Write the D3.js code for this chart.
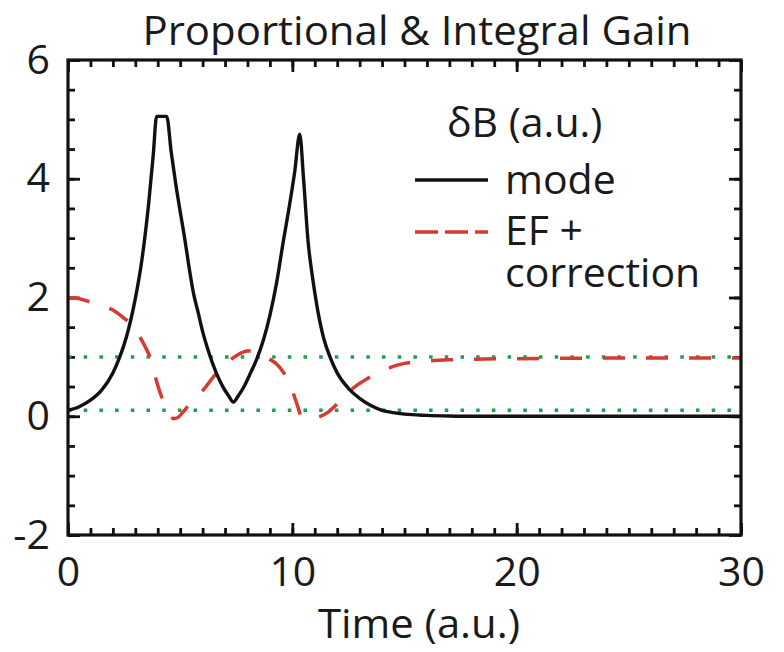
<!DOCTYPE html>
<html>
<head>
<meta charset="utf-8">
<script src="https://cdn.jsdelivr.net/npm/d3@7"></script>
<style>
  body { margin: 0; background: #fff; }
  text { font-family: "Open Sans", "Noto Sans", sans-serif; fill: #1a1a1a; }
</style>
</head>
<body>
<div id="chart"></div>
<script>
// mode curve (black)
const modeTime = [0, 0.5, 1, 1.5, 2, 2.3, 2.6, 3.0, 3.3, 3.6, 3.8, 3.95, 4.4, 4.6, 4.8, 5.0, 5.2, 5.4, 5.6, 5.8, 6.0, 6.3, 6.6, 6.9, 7.15, 7.37,
  7.6, 7.85, 8.1, 8.4, 8.7, 9.0, 9.3, 9.6, 9.85, 10.1, 10.33, 10.5, 10.7, 10.9, 11.1, 11.4, 11.7, 12.0, 12.5, 13.0, 13.5, 14.0, 14.5, 15, 16, 17, 18, 20, 25, 30];
const modeValue = [0.10, 0.16, 0.27, 0.44, 0.73, 0.99, 1.33, 1.98, 2.65, 3.6, 4.4, 5.05, 5.05, 4.45, 3.92, 3.45, 3.0, 2.5, 2.06, 1.75, 1.43, 1.05, 0.74, 0.5, 0.35, 0.24,
  0.35, 0.5, 0.7, 0.95, 1.27, 1.7, 2.25, 2.95, 3.5, 4.1, 4.75, 4.0, 2.95, 2.34, 1.85, 1.31, 0.98, 0.73, 0.47, 0.3, 0.18, 0.1, 0.06, 0.035, 0.015, 0.005, 0, 0, 0, 0];

// EF + correction (red dashed)
const efTime = [0, 0.5, 1, 1.5, 2, 2.5, 2.8, 3.1, 3.4, 3.7, 4.0, 4.3, 4.5, 4.7, 4.9, 5.1, 5.3, 5.6, 6.0, 6.5, 7.0, 7.5, 8.0, 8.3, 8.7, 9.0, 9.3, 9.6, 9.8,
  10.0, 10.2, 10.4, 10.6, 10.9, 11.2, 11.6, 12.0, 12.4, 12.8, 13.2, 13.6, 14.0, 14.5, 15, 16, 17, 18, 20, 25, 30];
const efValue = [2.0, 1.98, 1.92, 1.86, 1.79, 1.65, 1.56, 1.4, 1.2, 0.95, 0.52, 0.21, 0.07, -0.04, -0.02, 0.06, 0.15, 0.28, 0.43, 0.67, 0.87, 1.02, 1.1, 1.1, 1.04, 0.96, 0.88, 0.74, 0.62,
  0.43, 0.21, 0.0, -0.04, -0.05, -0.01, 0.07, 0.21, 0.37, 0.5, 0.6, 0.69, 0.76, 0.84, 0.89, 0.93, 0.95, 0.96, 0.97, 0.98, 0.98];

// green dotted reference levels
const refLevels = [1.0, 0.1];

const xMajor = [0, 10, 20, 30];
const yMajor = [-2, 0, 2, 4, 6];

const width = 784, height = 652;
const margin = { top: 60, right: 43, bottom: 117, left: 68 };
const fontSize = 41;

const svg = d3.select("#chart").append("svg")
  .attr("width", width)
  .attr("height", height);

const x = d3.scaleLinear().domain([0, 30]).range([margin.left, width - margin.right]);
const y = d3.scaleLinear().domain([-2, 6]).range([height - margin.bottom, margin.top]);

svg.append("clipPath").attr("id", "plot-clip")
  .append("rect")
  .attr("x", x(0)).attr("y", y(6))
  .attr("width", x(30) - x(0)).attr("height", y(-2) - y(6));

// axes: minor ticks then major ticks with labels
function styleAxis(g) {
  g.select(".domain").remove();
  g.selectAll(".tick line").attr("stroke", "#111").attr("stroke-width", 2.8);
  g.selectAll(".tick text").attr("font-size", fontSize).attr("fill", "#1a1a1a")
    .attr("font-family", '"Open Sans", sans-serif');
}

const xMinor = d3.range(0, 31);
const yMinor = d3.range(-2, 6.01, 0.5);
const plainFormat = d => String(d);

svg.append("g").attr("transform", `translate(0,${y(-2)})`)
  .call(d3.axisBottom(x).tickValues(xMinor).tickSize(-7).tickFormat(""))
  .call(styleAxis);
svg.append("g").attr("transform", `translate(0,${y(-2)})`)
  .call(d3.axisBottom(x).tickValues(xMajor).tickSize(-12).tickPadding(22).tickFormat(plainFormat))
  .call(styleAxis);

svg.append("g").attr("transform", `translate(0,${y(6)})`)
  .call(d3.axisTop(x).tickValues(xMinor).tickSize(-7).tickFormat(""))
  .call(styleAxis);
svg.append("g").attr("transform", `translate(0,${y(6)})`)
  .call(d3.axisTop(x).tickValues(xMajor).tickSize(-12).tickFormat(""))
  .call(styleAxis);

svg.append("g").attr("transform", `translate(${x(0)},0)`)
  .call(d3.axisLeft(y).tickValues(yMinor).tickSize(-7).tickFormat(""))
  .call(styleAxis);
svg.append("g").attr("transform", `translate(${x(0)},0)`)
  .call(d3.axisLeft(y).tickValues(yMajor).tickSize(-12).tickPadding(18).tickFormat(plainFormat))
  .call(styleAxis);

svg.append("g").attr("transform", `translate(${x(30)},0)`)
  .call(d3.axisRight(y).tickValues(yMinor).tickSize(-7).tickFormat(""))
  .call(styleAxis);
svg.append("g").attr("transform", `translate(${x(30)},0)`)
  .call(d3.axisRight(y).tickValues(yMajor).tickSize(-12).tickFormat(""))
  .call(styleAxis);

const plot = svg.append("g").attr("clip-path", "url(#plot-clip)");

// green dotted lines
plot.selectAll("line.ref")
  .data(refLevels)
  .enter()
  .append("line")
  .attr("class", "ref")
  .attr("x1", x(0)).attr("x2", x(30))
  .attr("y1", d => y(d)).attr("y2", d => y(d))
  .attr("stroke", "#1f9e4c")
  .attr("stroke-width", 3.5)
  .attr("stroke-dasharray", "3.5,12.2");

const modeData = modeTime.map((t, i) => ({ t, v: modeValue[i] }));
const efData = efTime.map((t, i) => ({ t, v: efValue[i] }));

const line = d3.line()
  .x(d => x(d.t))
  .y(d => y(d.v))
  .curve(d3.curveMonotoneX);

plot.append("path")
  .datum(efData)
  .attr("d", line)
  .attr("fill", "none")
  .attr("stroke", "#d63a30")
  .attr("stroke-width", 3.5)
  .attr("stroke-dasharray", "22,21");

plot.append("path")
  .datum(modeData)
  .attr("d", line)
  .attr("fill", "none")
  .attr("stroke", "#111")
  .attr("stroke-width", 3.4);

// frame
svg.append("rect")
  .attr("x", x(0)).attr("y", y(6))
  .attr("width", x(30) - x(0)).attr("height", y(-2) - y(6))
  .attr("fill", "none")
  .attr("stroke", "#111")
  .attr("stroke-width", 3.2);

// title and axis label
svg.append("text")
  .attr("x", 417).attr("y", 45)
  .attr("text-anchor", "middle")
  .attr("font-size", 40)
  .attr("textLength", 549)
  .attr("lengthAdjust", "spacingAndGlyphs")
  .text("Proportional & Integral Gain");

svg.append("text")
  .attr("x", 419).attr("y", 638)
  .attr("text-anchor", "middle")
  .attr("font-size", 40)
  .attr("textLength", 202)
  .attr("lengthAdjust", "spacingAndGlyphs")
  .text("Time (a.u.)");

// legend
const legend = svg.append("g");
legend.append("text").attr("x", 447).attr("y", 137).attr("font-size", fontSize).text("δB (a.u.)");

legend.append("line")
  .attr("x1", 415).attr("x2", 488).attr("y1", 180).attr("y2", 180)
  .attr("stroke", "#111").attr("stroke-width", 3.4);
legend.append("text").attr("x", 505).attr("y", 194).attr("font-size", fontSize).text("mode");

legend.append("line")
  .attr("x1", 415).attr("x2", 488).attr("y1", 232).attr("y2", 232)
  .attr("stroke", "#d63a30").attr("stroke-width", 3.5)
  .attr("stroke-dasharray", "23,7");

// two-line label kept as one text element
const efLabel = legend.append("text").attr("x", 505).attr("y", 245).attr("font-size", fontSize);
efLabel.append("tspan").attr("x", 505).text("EF +");
efLabel.append("tspan").attr("x", 505).attr("dy", 42).text("correction");
</script>
</body>
</html>
